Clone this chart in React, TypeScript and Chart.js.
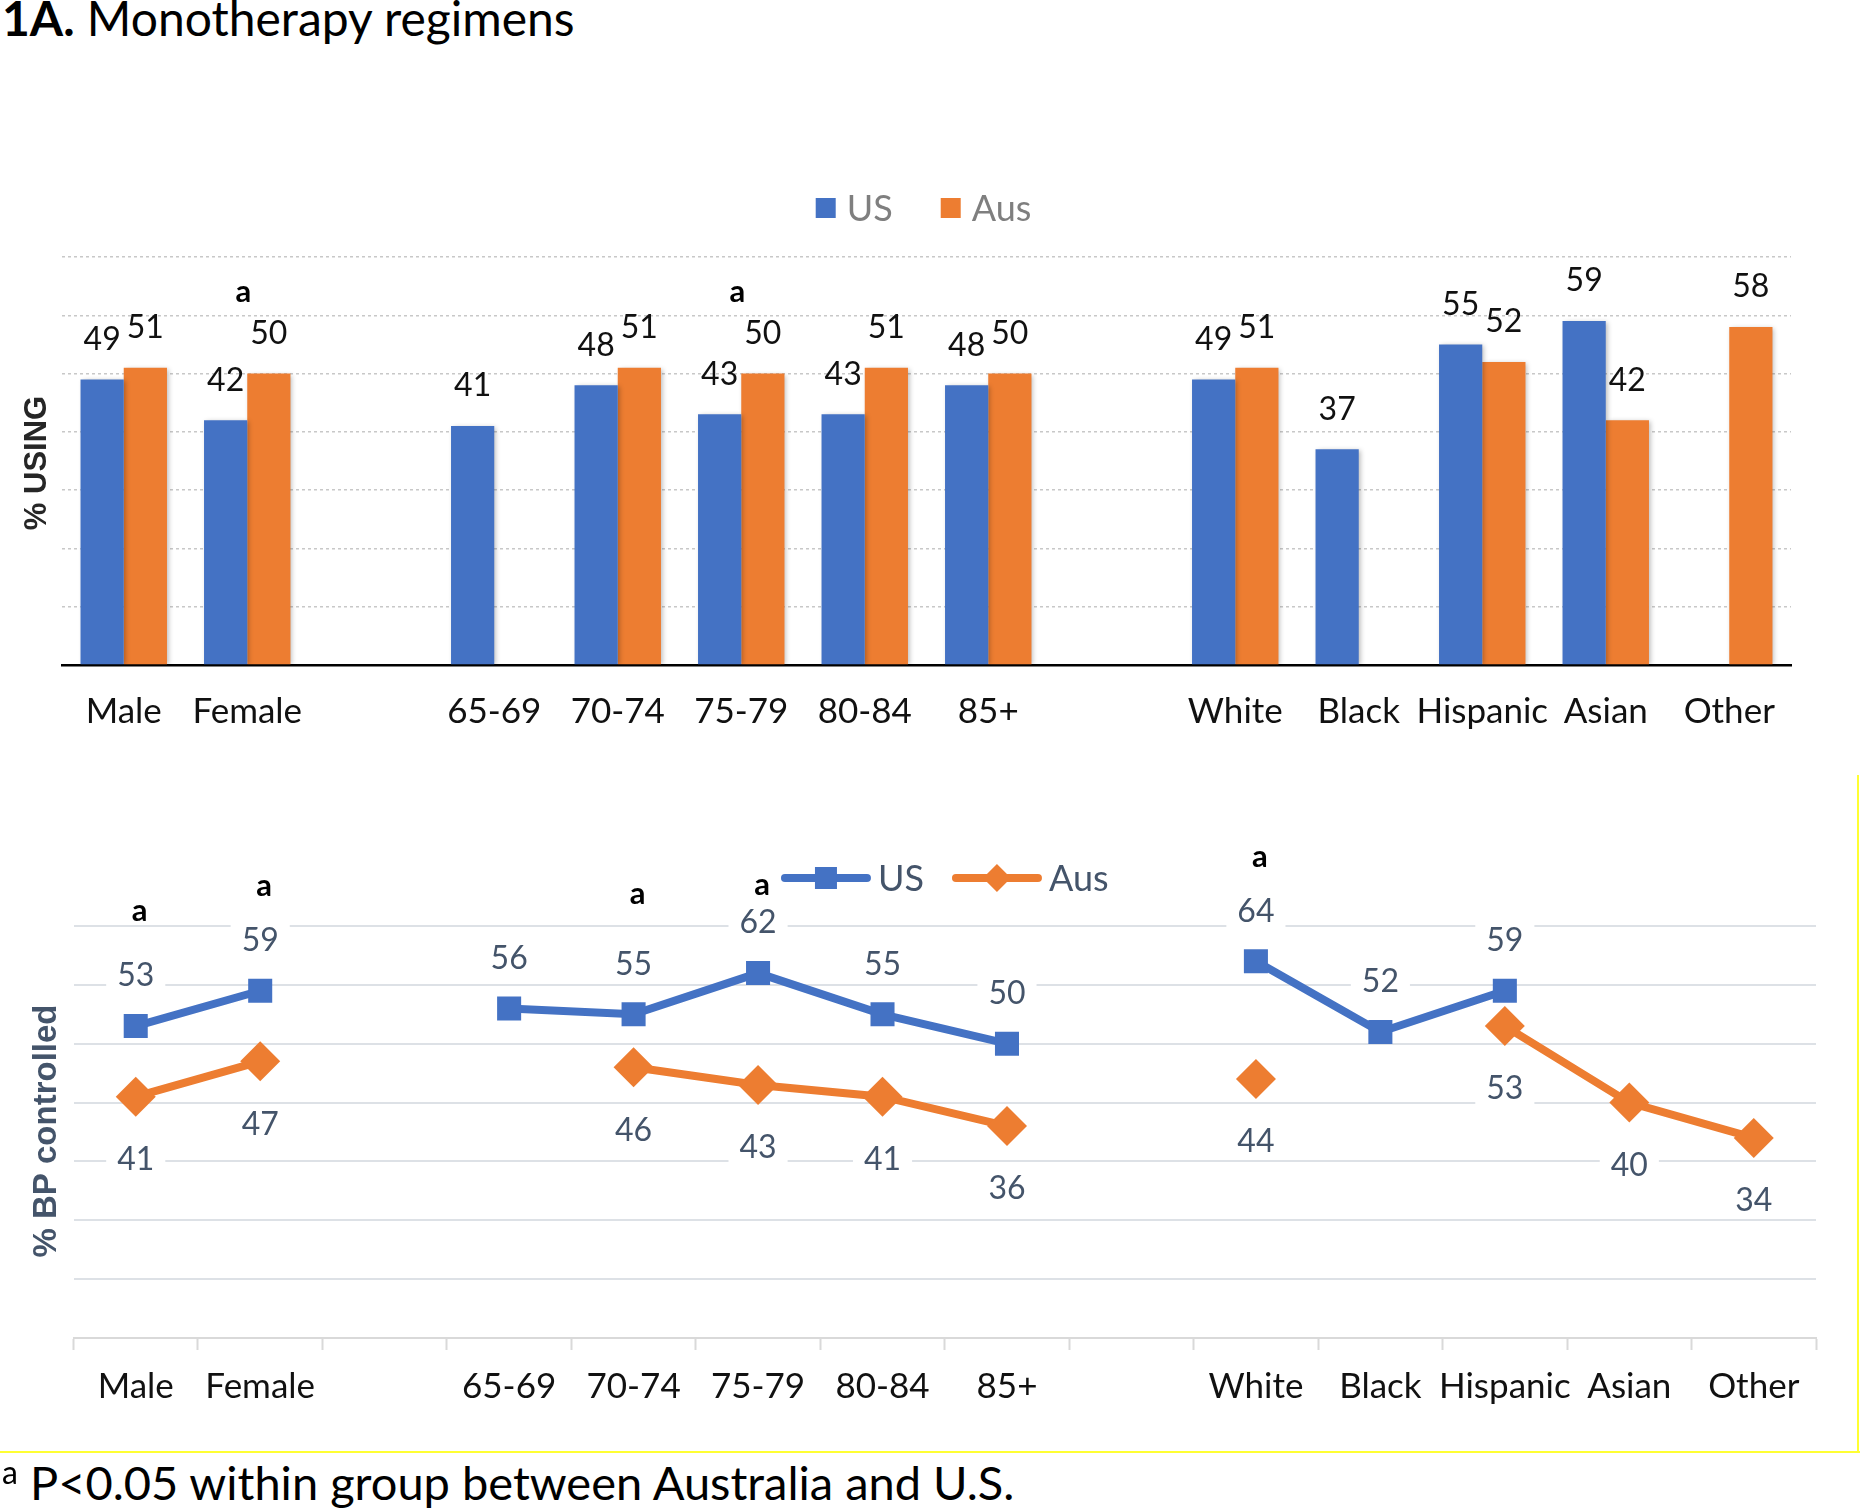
import React, { useEffect, useRef } from 'react';
import { Chart, registerables } from 'chart.js';

Chart.register(...registerables);

// ---------- data ----------
const categories = ['Male', 'Female', '', '65-69', '70-74', '75-79', '80-84', '85+', '', 'White', 'Black', 'Hispanic', 'Asian', 'Other'];
const seriesNames = ['US', 'Aus'];
const usingUS = [49, 42, null, 41, 48, 43, 43, 48, null, 49, 37, 55, 59, null];
const usingAus = [51, 50, null, null, 51, 50, 51, 50, null, 51, null, 52, 42, 58];
const usingSignificant = [false, true, false, false, false, true, false, false, false, false, false, false, false, false];
const bpUS = [53, 59, null, 56, 55, 62, 55, 50, null, 64, 52, 59, null, null];
const bpAus = [41, 47, null, null, 46, 43, 41, 36, null, 44, null, 53, 40, 34];
const bpSignificant = [true, true, false, false, true, true, false, false, false, true, false, false, false, false];
const yMin = 0;
const yMax = 70;
const yStep = 10;

// ---------- styles ----------
const BLUE = '#4472C4';
const ORANGE = '#ED7D31';
const SLATE = '#44546A';
const FONT = 'Lato, "Open Sans", "Noto Sans", sans-serif';
const AXIS_TITLE_FONT = '"Liberation Sans", Arial, sans-serif';
// lift of the significance marker above the US point (bottom chart), px
const bpSigLift: Record<number, number> = { 0: 115, 1: 105, 4: 120, 5: 88, 9: 104 };

function drawRotatedTitle(ctx: any, text: string, x: number, y: number, color: string, size: number) {
  ctx.save();
  ctx.translate(x, y);
  ctx.rotate(-Math.PI / 2);
  ctx.font = `bold ${size}px ${AXIS_TITLE_FONT}`;
  ctx.fillStyle = color;
  ctx.textAlign = 'center';
  ctx.textBaseline = 'middle';
  ctx.fillText(text, 0, 0);
  ctx.restore();
}

const topDecor = {
  id: 'topDecor',
  beforeDatasetsDraw(chart: any) {
    const ctx = chart.ctx;
    ctx.save();
    ctx.shadowColor = 'rgba(0,0,0,0.28)';
    ctx.shadowBlur = 5;
    ctx.shadowOffsetX = 2;
    ctx.shadowOffsetY = 1;
  },
  afterDatasetsDraw(chart: any) {
    const ctx = chart.ctx;
    ctx.restore();
    ctx.save();
    ctx.font = `32px ${FONT}`;
    ctx.fillStyle = '#111';
    ctx.textAlign = 'center';
    ctx.textBaseline = 'middle';
    chart.data.datasets.forEach((ds: any, di: number) => {
      const meta = chart.getDatasetMeta(di);
      meta.data.forEach((el: any, i: number) => {
        const v = ds.data[i];
        if (v == null) return;
        ctx.fillText(String(v), el.x, el.y - 40);
      });
    });
    ctx.font = `bold 31px ${FONT}`;
    ctx.fillStyle = '#000';
    usingSignificant.forEach((s, i) => {
      if (!s) return;
      const ys: number[] = [];
      chart.data.datasets.forEach((ds: any, di: number) => {
        if (ds.data[i] != null) ys.push(chart.getDatasetMeta(di).data[i].y);
      });
      const top = Math.min(...ys);
      const x = chart.scales.x.getPixelForValue(i);
      ctx.fillText('a', x - 4, top - 82);
    });
    ctx.restore();
  },
  afterDraw(chart: any) {
    const ctx = chart.ctx;
    const area = chart.chartArea;
    ctx.save();
    ctx.font = `36px ${FONT}`;
    ctx.textBaseline = 'middle';
    ctx.textAlign = 'left';
    const box = 20, gapText = 11, gapItem = 48;
    const colors = [BLUE, ORANGE];
    const widths = seriesNames.map((n) => ctx.measureText(n).width);
    const total = widths.reduce((a, w) => a + box + gapText + w, 0) + gapItem * (seriesNames.length - 1);
    let x = (area.left + area.right) / 2 - total / 2 - 3;
    const cy = 58;
    seriesNames.forEach((n, i) => {
      ctx.fillStyle = colors[i];
      ctx.fillRect(x, cy - box / 2, box, box);
      x += box + gapText;
      ctx.fillStyle = '#7F7F7F';
      ctx.fillText(n, x, cy + 1);
      x += widths[i] + gapItem;
    });
    ctx.restore();
    drawRotatedTitle(ctx, '% USING', 37, 313, '#262626', 31);
  },
};

const bottomDecor = {
  id: 'bottomDecor',
  afterDatasetsDraw(chart: any) {
    const ctx = chart.ctx;
    ctx.save();
    ctx.font = `32px ${FONT}`;
    ctx.textAlign = 'center';
    ctx.textBaseline = 'middle';
    chart.data.datasets.forEach((ds: any, di: number) => {
      const meta = chart.getDatasetMeta(di);
      meta.data.forEach((el: any, i: number) => {
        const v = ds.data[i];
        if (v == null) return;
        const ty = di === 0 ? el.y - 51 : el.y + 62;
        const t = String(v);
        const w = ctx.measureText(t).width;
        ctx.fillStyle = '#fff';
        ctx.fillRect(el.x - w / 2 - 11, ty - 18, w + 22, 36);
        ctx.fillStyle = SLATE;
        ctx.fillText(t, el.x, ty + 1);
      });
    });
    ctx.font = `bold 31px ${FONT}`;
    ctx.fillStyle = '#000';
    const usMeta = chart.getDatasetMeta(0);
    bpSignificant.forEach((s, i) => {
      if (!s) return;
      const el = usMeta.data[i];
      const lift = bpSigLift[i] ?? 105;
      ctx.fillText('a', chart.scales.x.getPixelForValue(i) + 4, el.y - lift);
    });
    ctx.restore();
  },
  afterDraw(chart: any) {
    const ctx = chart.ctx;
    const area = chart.chartArea;
    ctx.save();
    ctx.font = `36px ${FONT}`;
    ctx.textBaseline = 'middle';
    ctx.textAlign = 'left';
    const lineLen = 90, gapText = 7, gapItem = 28;
    const colors = [BLUE, ORANGE];
    const widths = seriesNames.map((n) => ctx.measureText(n).width);
    const total = widths.reduce((a, w) => a + lineLen + gapText + w, 0) + gapItem * (seriesNames.length - 1);
    let x = (area.left + area.right) / 2 - total / 2;
    const cy = 78;
    seriesNames.forEach((n, i) => {
      ctx.strokeStyle = colors[i];
      ctx.lineWidth = 8;
      ctx.lineCap = 'round';
      ctx.beginPath();
      ctx.moveTo(x + 4, cy);
      ctx.lineTo(x + lineLen - 4, cy);
      ctx.stroke();
      const mx = x + lineLen / 2;
      ctx.fillStyle = colors[i];
      if (i === 0) {
        ctx.fillRect(mx - 11, cy - 11, 22, 22);
      } else {
        ctx.beginPath();
        ctx.moveTo(mx, cy - 14);
        ctx.lineTo(mx + 14, cy);
        ctx.lineTo(mx, cy + 14);
        ctx.lineTo(mx - 14, cy);
        ctx.closePath();
        ctx.fill();
      }
      x += lineLen + gapText;
      ctx.fillStyle = SLATE;
      ctx.fillText(n, x, cy + 1);
      x += widths[i] + gapItem;
    });
    ctx.restore();
    drawRotatedTitle(ctx, '% BP controlled', 47, 331, SLATE, 33);
  },
};

export default function App() {
  const topRef = useRef<HTMLCanvasElement>(null);
  const botRef = useRef<HTMLCanvasElement>(null);

  useEffect(() => {
    document.body.style.margin = '0';
    const top = new Chart(topRef.current as HTMLCanvasElement, {
      type: 'bar',
      data: {
        labels: categories,
        datasets: [
          { label: seriesNames[0], data: usingUS, backgroundColor: BLUE, borderWidth: 0, categoryPercentage: 0.7, barPercentage: 1.0 },
          { label: seriesNames[1], data: usingAus, backgroundColor: ORANGE, borderWidth: 0, categoryPercentage: 0.7, barPercentage: 1.0 },
        ],
      },
      options: {
        responsive: false,
        animation: false,
        devicePixelRatio: 1,
        layout: { padding: { left: 62, right: 69, top: 107, bottom: 11 } },
        plugins: { legend: { display: false }, tooltip: { enabled: false } },
        scales: {
          x: {
            grid: { display: false, drawTicks: false },
            border: { display: true, color: '#000', width: 2.5 },
            ticks: { font: { family: FONT, size: 35 }, color: '#111', padding: 26, maxRotation: 0, autoSkip: false },
          },
          y: {
            min: yMin,
            max: yMax,
            ticks: { display: false, stepSize: yStep },
            grid: { color: '#C8C8C8', lineWidth: 1.5, drawTicks: false },
            border: { display: false, dash: [3, 3] },
          },
        },
      },
      plugins: [topDecor],
    } as any);

    const bottom = new Chart(botRef.current as HTMLCanvasElement, {
      type: 'line',
      data: {
        labels: categories,
        datasets: [
          {
            label: seriesNames[0], data: bpUS, borderColor: BLUE, backgroundColor: BLUE, borderWidth: 8,
            pointStyle: 'rect', pointRadius: 17, pointBackgroundColor: BLUE, pointBorderColor: BLUE, pointBorderWidth: 0,
            spanGaps: false, tension: 0,
          },
          {
            label: seriesNames[1], data: bpAus, borderColor: ORANGE, backgroundColor: ORANGE, borderWidth: 8,
            pointStyle: 'rectRot', pointRadius: 20, pointBackgroundColor: ORANGE, pointBorderColor: ORANGE, pointBorderWidth: 0,
            spanGaps: false, tension: 0,
          },
        ],
      },
      options: {
        responsive: false,
        animation: false,
        devicePixelRatio: 1,
        layout: { padding: { left: 73.5, right: 44, top: 126, bottom: 16 } },
        plugins: { legend: { display: false }, tooltip: { enabled: false } },
        scales: {
          x: {
            offset: true,
            grid: { display: true, offset: true, drawOnChartArea: false, drawTicks: true, tickLength: 12, color: '#D9D9D9', tickColor: '#D9D9D9', tickWidth: 2 },
            border: { display: true, color: '#D9D9D9', width: 2 },
            ticks: { font: { family: FONT, size: 35 }, color: '#111', padding: 16, maxRotation: 0, autoSkip: false },
          },
          y: {
            min: yMin,
            max: yMax,
            ticks: { display: false, stepSize: yStep },
            grid: { color: '#DDE1E6', lineWidth: 2, drawTicks: false },
            border: { display: false },
          },
        },
      },
      plugins: [bottomDecor],
    } as any);

    return () => {
      top.destroy();
      bottom.destroy();
    };
  }, []);

  return (
    <div style={{ position: 'absolute', left: 0, top: 0, width: 1860, height: 1511, background: '#fff', overflow: 'hidden', fontFamily: FONT }}>
      <div style={{ position: 'absolute', left: 2, top: -6, fontSize: 48, lineHeight: '48px', color: '#000', whiteSpace: 'nowrap' }}>
        <span style={{ fontWeight: 700 }}>1A.</span> Monotherapy regimens
      </div>
      <canvas ref={topRef} width={1860} height={620} style={{ position: 'absolute', left: 0, top: 150, display: 'block' }} />
      <canvas ref={botRef} width={1860} height={640} style={{ position: 'absolute', left: 0, top: 800, display: 'block' }} />
      <div style={{ position: 'absolute', left: 1857, top: 775, width: 2, height: 677, background: '#FFFF33' }} />
      <div style={{ position: 'absolute', left: 0, top: 1451, width: 1860, height: 2, background: '#FFFF33' }} />
      <div style={{ position: 'absolute', left: 2, top: 1459, fontSize: 47, lineHeight: '47px', color: '#000', whiteSpace: 'nowrap' }}>
        <span style={{ fontSize: 32, position: 'relative', top: -16, marginRight: 12 }}>a</span>P&lt;0.05 within group between Australia and U.S.
      </div>
    </div>
  );
}
